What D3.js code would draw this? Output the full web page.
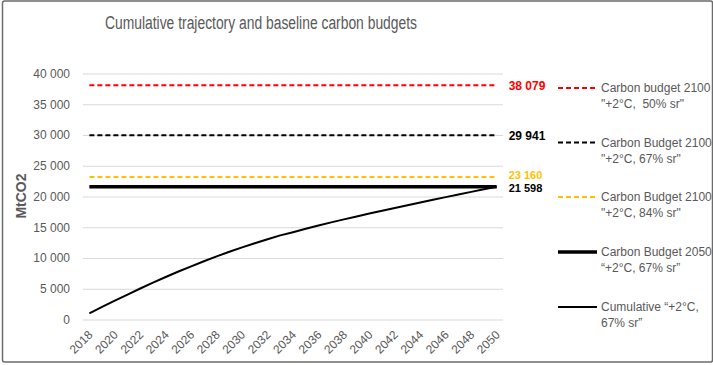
<!DOCTYPE html>
<html>
<head>
<meta charset="utf-8">
<script src="https://cdn.jsdelivr.net/npm/d3@7"></script>
<style>
  html, body { margin: 0; padding: 0; background: #fff; }
  svg { display: block; font-family: "Liberation Sans", Arial, sans-serif; }
</style>
</head>
<body>
<div id="chart"></div>
<script>
// ---------- data ----------
const years = d3.range(2018, 2051).map(String);
const cumulative = [1000, 2040, 3060, 4060, 5040, 5990, 6910, 7800, 8650, 9470,
  10260, 11010, 11730, 12410, 13060, 13680, 14200, 14750, 15280, 15790,
  16280, 16760, 17230, 17690, 18140, 18590, 19030, 19470, 19900, 20330,
  20750, 21170, 21598];
const budgetNames = ["Carbon budget 2100 50%", "Carbon Budget 2100 67%", "Carbon Budget 2100 84%", "Carbon Budget 2050 67%"];
const budgetValues = [38079, 29941, 23160, 21598];
const budgetLabels = ["38 079", "29 941", "23 160", "21 598"];
const yTicks = [0, 5000, 10000, 15000, 20000, 25000, 30000, 35000, 40000];
const yTickLabels = ["0", "5 000", "10 000", "15 000", "20 000", "25 000", "30 000", "35 000", "40 000"];
const xTickLabels = years.filter((d, i) => i % 2 === 0);
const legendLines = [
  ["Carbon budget 2100", "\"+2°C,  50% sr\""],
  ["Carbon Budget 2100", "\"+2°C, 67% sr\""],
  ["Carbon Budget 2100", "\"+2°C, 84% sr\""],
  ["Carbon Budget 2050", "“+2°C, 67% sr”"],
  ["Cumulative “+2°C,", "67% sr”"]
];
const title = "Cumulative trajectory and baseline carbon budgets";
const yTitle = "MtCO2";

// ---------- styles ----------
const W = 713, H = 365;
const plot = { left: 83, right: 503, top: 73.5, bottom: 319.5 };
const budgetStyles = [
  { color: "#FF0000", width: 2, dash: "5,3", labelColor: "#FF0000", nudge: 0, fs: 12 },
  { color: "#000000", width: 2, dash: "5,3", labelColor: "#000000", nudge: 0, fs: 12 },
  { color: "#FFC000", width: 2, dash: "5,3", labelColor: "#FFC000", nudge: -1.5, fs: 11 },
  { color: "#000000", width: 3.5, dash: null, labelColor: "#000000", nudge: 1.5, fs: 11 }
];
const cumStyle = { color: "#000000", width: 2 };
const textGray = "#595959";

const svg = d3.select("#chart").append("svg").attr("width", W).attr("height", H);
svg.append("rect").attr("x", 0).attr("y", 0).attr("width", W).attr("height", H).attr("fill", "#fff");
svg.append("rect").attr("x", 2.5).attr("y", 1).attr("width", 710).attr("height", 361)
  .attr("fill", "none").attr("stroke", "#6b6b6b").attr("stroke-width", 1.5).attr("rx", 2);

const x = d3.scaleBand().domain(years).range([plot.left, plot.right]).padding(0);
const xc = d => x(d) + x.bandwidth() / 2;
const y = d3.scaleLinear().domain([0, 40000]).range([plot.bottom, plot.top]);

// title
svg.append("text").attr("x", 261).attr("y", 29).attr("text-anchor", "middle")
  .attr("font-size", 18).attr("fill", textGray)
  .attr("textLength", 312).attr("lengthAdjust", "spacingAndGlyphs")
  .text(title);

// gridlines
const yAxis = d3.axisLeft(y).tickValues(yTicks).tickSize(-(plot.right - plot.left))
  .tickFormat((d, i) => yTickLabels[i]).tickPadding(13);
const gy = svg.append("g").attr("transform", `translate(${plot.left},0)`).call(yAxis);
gy.select(".domain").remove();
gy.selectAll(".tick line").attr("stroke", "#d9d9d9").attr("stroke-width", 1);
gy.selectAll(".tick text").attr("fill", textGray).attr("font-size", 12)
  .attr("font-family", "Liberation Sans, Arial, sans-serif");

// y title
svg.append("text").attr("transform", "translate(26,196) rotate(-90)")
  .attr("text-anchor", "middle").attr("font-size", 14).attr("font-weight", "bold")
  .attr("fill", textGray).text(yTitle);

// x axis labels
const xAxis = d3.axisBottom(x).tickValues(xTickLabels).tickSize(0).tickPadding(0);
const gx = svg.append("g").attr("transform", `translate(0,${plot.bottom})`).call(xAxis);
gx.select(".domain").remove();
gx.selectAll(".tick text")
  .attr("fill", textGray).attr("font-size", 12)
  .attr("font-family", "Liberation Sans, Arial, sans-serif")
  .attr("text-anchor", "end")
  .attr("dy", null)
  .attr("y", 0)
  .attr("transform", "translate(4,16) rotate(-45)");

// budget lines
const lineGen = d3.line().x(d => xc(d[0])).y(d => y(d[1]));
budgetValues.forEach((v, i) => {
  const s = budgetStyles[i];
  const pts = years.map(yr => [yr, v]);
  const p = svg.append("path").datum(pts).attr("d", lineGen)
    .attr("fill", "none").attr("stroke", s.color).attr("stroke-width", s.width);
  if (s.dash) p.attr("stroke-dasharray", s.dash);
});

// cumulative line
svg.append("path").datum(years.map((yr, i) => [yr, cumulative[i]])).attr("d", lineGen)
  .attr("fill", "none").attr("stroke", cumStyle.color).attr("stroke-width", cumStyle.width)
  .attr("stroke-linejoin", "round");

// end labels
budgetValues.forEach((v, i) => {
  svg.append("text").attr("x", xc(years[years.length - 1]) + 12).attr("y", y(v) + budgetStyles[i].nudge)
    .attr("dy", "0.35em").attr("font-size", budgetStyles[i].fs).attr("font-weight", "bold")
    .attr("fill", budgetStyles[i].labelColor).text(budgetLabels[i]);
});

// legend
const legY = [88, 142.5, 197, 252, 307];
const legStyles = budgetStyles.concat([{ color: cumStyle.color, width: cumStyle.width, dash: null }]);
legendLines.forEach((lines, i) => {
  const s = legStyles[i];
  const l = svg.append("line").attr("x1", 558).attr("x2", 597)
    .attr("y1", legY[i]).attr("y2", legY[i])
    .attr("stroke", s.color).attr("stroke-width", s.width);
  if (s.dash) l.attr("stroke-dasharray", s.dash);
  lines.forEach((t, j) => {
    svg.append("text").attr("x", 601).attr("y", legY[i] + j * 16).attr("dy", "0.35em")
      .attr("font-size", 12).attr("fill", textGray).attr("xml:space", "preserve")
      .style("white-space", "pre").text(t);
  });
});
</script>
</body>
</html>
